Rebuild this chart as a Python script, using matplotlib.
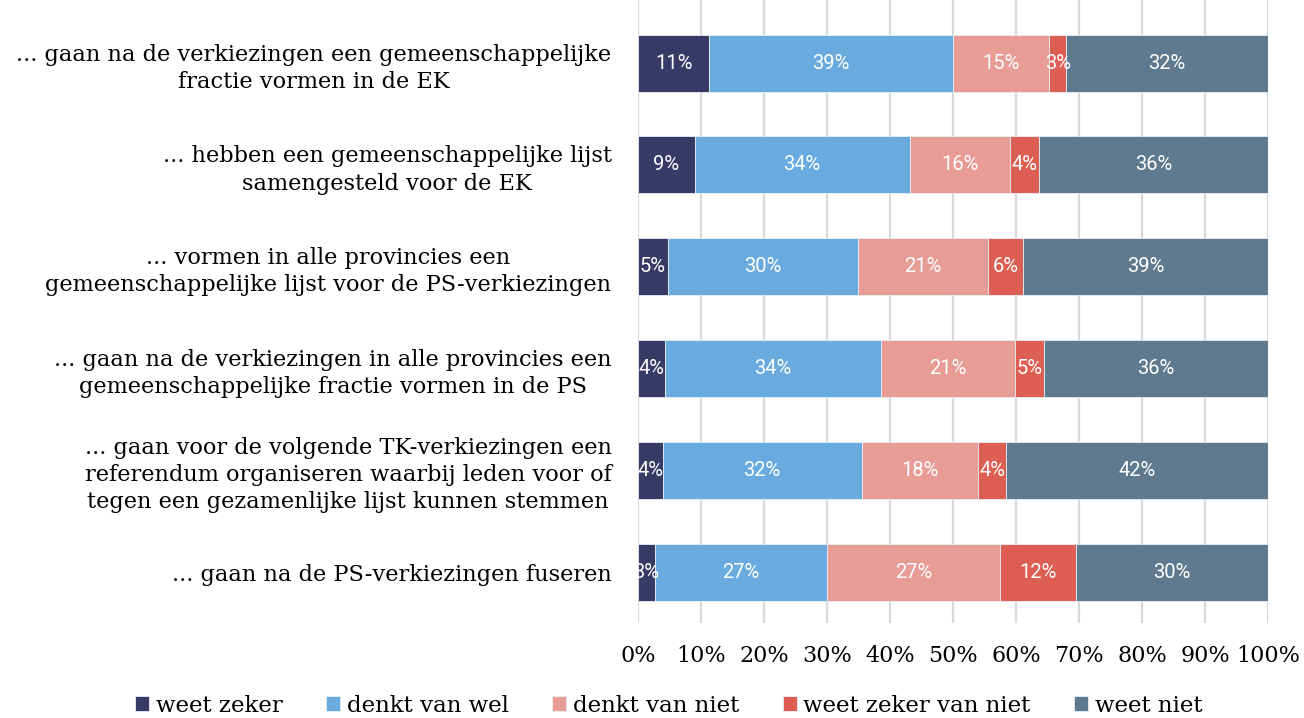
import matplotlib.pyplot as plt
import numpy as np

questions = [
    "... gaan na de verkiezingen een gemeenschappelijke\nfractie vormen in de EK",
    "... hebben een gemeenschappelijke lijst\nsamengesteld voor de EK",
    "... vormen in alle provincies een\ngemeenschappelijke lijst voor de PS-verkiezingen",
    "... gaan na de verkiezingen in alle provincies een\ngemeenschappelijke fractie vormen in de PS",
    "... gaan voor de volgende TK-verkiezingen een\nreferendum organiseren waarbij leden voor of\ntegen een gezamenlijke lijst kunnen stemmen",
    "... gaan na de PS-verkiezingen fuseren",
]
categories = ["weet zeker", "denkt van wel", "denkt van niet", "weet zeker van niet", "weet niet"]

weet_zeker = [11.3, 9.0, 4.7, 4.3, 3.9, 2.7]
denkt_wel = [38.7, 34.1, 30.2, 34.3, 31.6, 27.3]
denkt_niet = [15.3, 16.0, 20.6, 21.2, 18.5, 27.5]
zeker_niet = [2.7, 4.5, 5.6, 4.6, 4.4, 12.0]
weet_niet = [32.0, 36.4, 38.9, 35.6, 41.6, 30.5]

labels_zeker = ["11%", "9%", "5%", "4%", "4%", "3%"]
labels_wel = ["39%", "34%", "30%", "34%", "32%", "27%"]
labels_dnniet = ["15%", "16%", "21%", "21%", "18%", "27%"]
labels_zniet = ["3%", "4%", "6%", "5%", "4%", "12%"]
labels_wniet = ["32%", "36%", "39%", "36%", "42%", "30%"]

colors = ["#383A66", "#69ABDE", "#E89C96", "#DD5E52", "#5F7A8F"]

series = [weet_zeker, denkt_wel, denkt_niet, zeker_niet, weet_niet]
series_labels = [labels_zeker, labels_wel, labels_dnniet, labels_zniet, labels_wniet]

fig = plt.figure(figsize=(13.04, 7.18), dpi=100)
ax = fig.add_axes([638 / 1304, 1 - 623 / 718, 630 / 1304, 623 / 718])

y = np.arange(len(questions))
left = np.zeros(len(questions))
for vals, labs, col, name in zip(series, series_labels, colors, categories):
    vals = np.array(vals)
    ax.barh(y, vals, left=left, height=0.56, color=col, label=name,
            edgecolor="#E6EEF5", linewidth=0.6, zorder=3)
    for yi, l, v, t in zip(y, left, vals, labs):
        ax.text(l + v / 2, yi, t, ha="center", va="center", color="white",
                fontsize=14.5, family="Roboto", zorder=4)
    left += vals

ax.set_xlim(0, 100)
ax.set_ylim(5.5, -0.62)
ax.set_xticks(np.arange(0, 101, 10))
ax.set_xticklabels([f"{v}%" for v in range(0, 101, 10)], family="DejaVu Serif", fontsize=16)
ax.set_yticks(y)
ax.set_yticklabels(questions, family="DejaVu Serif", fontsize=16.2,
                   multialignment="center", linespacing=1.3)
ax.tick_params(length=0, axis="y", pad=19)
ax.tick_params(length=0, axis="x", pad=16)
ax.grid(axis="x", color="#D9D9D9", linewidth=1.6, zorder=0)
for s in ax.spines.values():
    s.set_visible(False)

fig.legend(loc="center", bbox_to_anchor=(0.513, 0.017), ncol=5, frameon=False,
           prop={"family": "DejaVu Serif", "size": 16.5}, handlelength=0.6,
           handleheight=0.6, handletextpad=0.3, columnspacing=1.9)

fig.savefig("out.png", dpi=100)
